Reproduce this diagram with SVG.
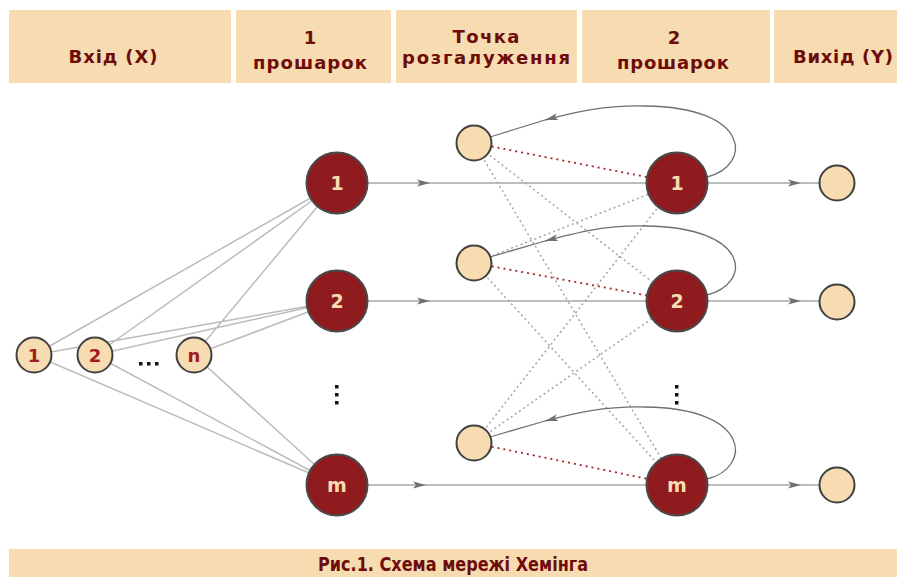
<svg xmlns="http://www.w3.org/2000/svg" width="897" height="577" viewBox="0 0 897 577">
<style>
.hdr{fill:#f6dcb0}
.ht{font-family:"DejaVu Sans",Verdana,sans-serif;font-weight:bold;font-size:18px;fill:#6e0b0b;text-anchor:middle}
.cap{font-family:"DejaVu Sans Condensed","DejaVu Sans",sans-serif;font-stretch:condensed;font-weight:bold;font-size:19px;fill:#6e0b0b;text-anchor:middle}
.inl{stroke:#bcbcbc;stroke-width:1.5;fill:none}
.hl{stroke:#bdbdbd;stroke-width:2.2;fill:none}
.dg{stroke:#a8a8a8;stroke-width:1.6;stroke-dasharray:2 3;fill:none}
.dr{stroke:#a8262a;stroke-width:1.8;stroke-dasharray:2 4;fill:none}
.fb{stroke:#707070;stroke-width:1.3;fill:none}
.sn{fill:#f6dcb0;stroke:#404040;stroke-width:2}
.bn{fill:#901b1f;stroke:#4a4a4a;stroke-width:2}
.st{font-family:"DejaVu Sans",Verdana,sans-serif;font-weight:bold;font-size:18px;fill:#a01b1f;text-anchor:middle}
.bt{font-family:"DejaVu Sans",Verdana,sans-serif;font-weight:bold;font-size:19px;fill:#f6dcb0;text-anchor:middle}
.dot{fill:#111}
</style>
<defs>
<marker id="arr" markerUnits="userSpaceOnUse" markerWidth="14" markerHeight="8" refX="13" refY="4" orient="auto">
<path d="M0,0.5 L13,4 L0,7.5 L3,4 z" fill="#707070"/>
</marker>
</defs>
<rect width="897" height="577" fill="#ffffff"/>
<g id="header">
<rect class="hdr" x="9" y="10" width="222" height="73"/>
<rect class="hdr" x="236" y="10" width="155" height="73"/>
<rect class="hdr" x="396" y="10" width="181" height="73"/>
<rect class="hdr" x="582" y="10" width="188" height="73"/>
<rect class="hdr" x="774" y="10" width="123" height="73"/>
<text class="ht" x="113" y="63" textLength="89" lengthAdjust="spacing">Вхід (X)</text>
<text class="ht" x="310" y="44">1</text>
<text class="ht" x="310" y="69" textLength="114" lengthAdjust="spacing">прошарок</text>
<text class="ht" x="486" y="43" textLength="67" lengthAdjust="spacing">Точка</text>
<text class="ht" x="486" y="64" textLength="168" lengthAdjust="spacing">розгалуження</text>
<text class="ht" x="674" y="44">2</text>
<text class="ht" x="673" y="69" textLength="112" lengthAdjust="spacing">прошарок</text>
<text class="ht" x="843" y="63" textLength="100" lengthAdjust="spacing">Вихід (Y)</text>
</g>
<g id="connectors">
<path class="inl" d="M34,355 L337,183 M34,355 L337,301 M34,355 L337,485 M95,355 L337,183 M95,355 L337,301 M95,355 L337,485 M194,355 L337,183 M194,355 L337,301 M194,355 L337,485"/>
<path class="hl" d="M337,183 L430,183 L677,183" marker-mid="url(#arr)"/>
<path class="hl" d="M337,301 L430,301 L677,301" marker-mid="url(#arr)"/>
<path class="hl" d="M337,485 L426,485 L677,485" marker-mid="url(#arr)"/>
<path class="hl" d="M677,183 L801,183 L837,183" marker-mid="url(#arr)"/>
<path class="hl" d="M677,301 L801,301 L837,301" marker-mid="url(#arr)"/>
<path class="hl" d="M677,485 L801,485 L837,485" marker-mid="url(#arr)"/>
<path class="dg" d="M474,143 L677,301 M474,143 L677,485 M474,263 L677,183 M474,263 L677,485 M474,443 L677,183 M474,443 L677,301"/>
<path class="dr" d="M474,143 L677,183 M474,263 L677,301 M474,443 L677,485"/>
<path class="fb" d="M707,177 C752,166 752,107 645,106 C605,105 575,112 545,120" marker-end="url(#arr)"/>
<path class="fb" d="M545,120 L490,137"/>
<path class="fb" d="M707,295 C752,284 752,227 645,226 C605,225 575,233 545,241" marker-end="url(#arr)"/>
<path class="fb" d="M545,241 L490,257"/>
<path class="fb" d="M707,479 C752,468 752,408 645,407 C605,406 575,413 545,421" marker-end="url(#arr)"/>
<path class="fb" d="M545,421 L490,437"/>
</g>
<g id="in1"><circle class="sn" cx="34" cy="355" r="17.5"/><text class="st" x="34" y="362">1</text></g>
<g id="in2"><circle class="sn" cx="95" cy="355" r="17.5"/><text class="st" x="95" y="362">2</text></g>
<g id="indots"><rect class="dot" x="139" y="362" width="3.5" height="3.5"/><rect class="dot" x="147" y="362" width="3.5" height="3.5"/><rect class="dot" x="155" y="362" width="3.5" height="3.5"/></g>
<g id="inn"><circle class="sn" cx="194" cy="355" r="17.5"/><text class="st" x="194" y="362">n</text></g>
<g id="l1n1"><circle class="bn" cx="337" cy="183" r="30.5"/><text class="bt" x="337" y="190">1</text></g>
<g id="l1n2"><circle class="bn" cx="337" cy="301" r="30.5"/><text class="bt" x="337" y="308">2</text></g>
<g id="l1dots"><rect class="dot" x="335" y="385" width="3.5" height="3.5"/><rect class="dot" x="335" y="393" width="3.5" height="3.5"/><rect class="dot" x="335" y="401" width="3.5" height="3.5"/></g>
<g id="l1nm"><circle class="bn" cx="337" cy="485" r="30.5"/><text class="bt" x="337" y="492">m</text></g>
<g id="br1"><circle class="sn" cx="474" cy="143" r="17.5"/></g>
<g id="br2"><circle class="sn" cx="474" cy="263" r="17.5"/></g>
<g id="brm"><circle class="sn" cx="474" cy="443" r="17.5"/></g>
<g id="l2n1"><circle class="bn" cx="677" cy="183" r="30.5"/><text class="bt" x="677" y="190">1</text></g>
<g id="l2n2"><circle class="bn" cx="677" cy="301" r="30.5"/><text class="bt" x="677" y="308">2</text></g>
<g id="l2dots"><rect class="dot" x="675" y="385" width="3.5" height="3.5"/><rect class="dot" x="675" y="393" width="3.5" height="3.5"/><rect class="dot" x="675" y="401" width="3.5" height="3.5"/></g>
<g id="l2nm"><circle class="bn" cx="677" cy="485" r="30.5"/><text class="bt" x="677" y="492">m</text></g>
<g id="out1"><circle class="sn" cx="837" cy="183" r="17.5"/></g>
<g id="out2"><circle class="sn" cx="837" cy="302" r="17.5"/></g>
<g id="outm"><circle class="sn" cx="837" cy="485" r="17.5"/></g>
<g id="caption">
<rect class="hdr" x="9" y="549" width="888" height="28"/>
<text class="cap" x="453" y="571" textLength="270" lengthAdjust="spacingAndGlyphs">Рис.1. Схема мережі Хемінга</text>
</g>
</svg>
